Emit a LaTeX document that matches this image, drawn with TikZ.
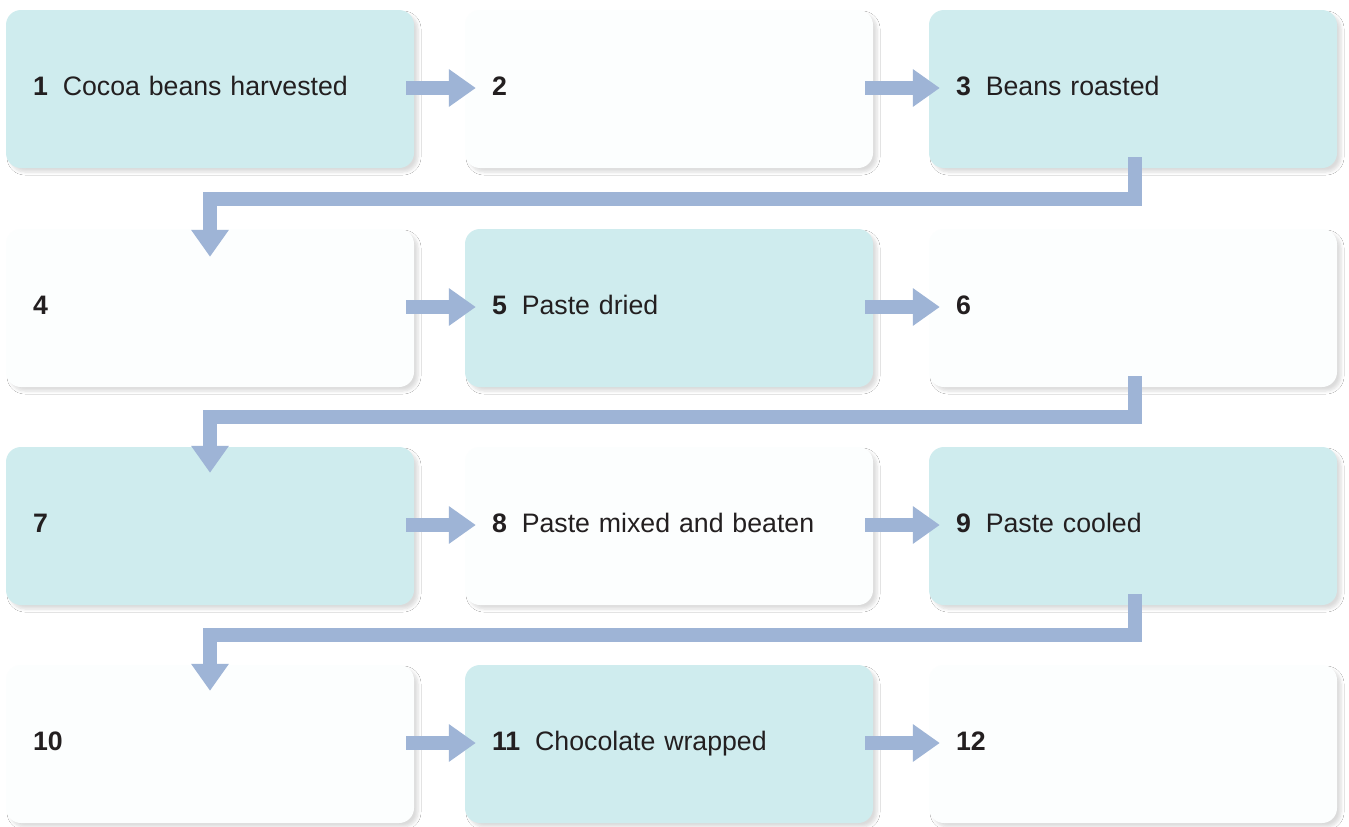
\documentclass[tikz,border=0pt]{standalone}
\usepackage{fontspec}
\setmainfont{Liberation Sans}
\usetikzlibrary{arrows.meta,shadows.blur}

\definecolor{stepcyan}{HTML}{CFECEE}
\definecolor{stepwhite}{HTML}{FCFEFE}
\definecolor{flowblue}{HTML}{9EB4D6}
\definecolor{inkdark}{HTML}{231F20}

\newcommand{\stepnum}[2]{\textbf{#1}\hspace{0.56em}#2}

\tikzset{
  stage/.style={rectangle, rounded corners=15pt, minimum width=408pt,
    minimum height=158pt, text width=354pt, inner xsep=27pt, inner ysep=0pt,
    text height=19pt, text depth=6pt,
    align=left, text=inkdark, font=\fontsize{26.7}{30}\selectfont,
    blur shadow={shadow xshift=4pt, shadow yshift=-4pt, shadow opacity=14,
      shadow blur radius=3pt, shadow blur steps=6}},
  tinted/.style={stage, fill=stepcyan},
  plain/.style={stage, fill=stepwhite},
  flow/.style={draw=flowblue, line width=14pt, line join=miter,
    -{Triangle[width=36pt,length=27pt]}},
}

\begin{document}
\begin{tikzpicture}[x=1pt,y=-1pt]
  \fill[white] (0,0) rectangle (1349,827);
  \useasboundingbox (0,0) rectangle (1349,827);

  % row 1
  \node[tinted] (b1)  at (210,89)   {\stepnum{1}{Cocoa beans harvested}};
  \node[plain]  (b2)  at (669,89)   {\stepnum{2}{}};
  \node[tinted] (b3)  at (1133,89)  {\stepnum{3}{Beans roasted}};
  % row 2
  \node[plain]  (b4)  at (210,308)  {\stepnum{4}{}};
  \node[tinted] (b5)  at (669,308)  {\stepnum{5}{Paste dried}};
  \node[plain]  (b6)  at (1133,308) {\stepnum{6}{}};
  % row 3
  \node[tinted] (b7)  at (210,526)  {\stepnum{7}{}};
  \node[plain]  (b8)  at (669,526)  {\stepnum{8}{Paste mixed and beaten}};
  \node[tinted] (b9)  at (1133,526) {\stepnum{9}{Paste cooled}};
  % row 4
  \node[plain]  (b10) at (210,744)  {\stepnum{10}{}};
  \node[tinted] (b11) at (669,744)  {\stepnum{11}{Chocolate wrapped}};
  \node[plain]  (b12) at (1133,744) {\stepnum{12}{}};

  % arrows along each row
  \foreach \a/\b in {b1/b2,b2/b3,b4/b5,b5/b6,b7/b8,b8/b9,b10/b11,b11/b12}
    \draw[flow] ([xshift=-8pt,yshift=1pt]\a.east) -- ([xshift=11pt,yshift=1pt]\b.west);

  % turn points between rows
  \coordinate (t1) at (670,199);
  \coordinate (t2) at (670,417);
  \coordinate (t3) at (670,635);

  % returns from the end of one row to the start of the next
  \draw[flow] ([xshift=2pt,yshift=11pt]b3.south) |- (t1) -| ([yshift=-28pt]b4.north);
  \draw[flow] ([xshift=2pt,yshift=11pt]b6.south) |- (t2) -| ([yshift=-26pt]b7.north);
  \draw[flow] ([xshift=2pt,yshift=11pt]b9.south) |- (t3) -| ([yshift=-26pt]b10.north);
\end{tikzpicture}
\end{document}
